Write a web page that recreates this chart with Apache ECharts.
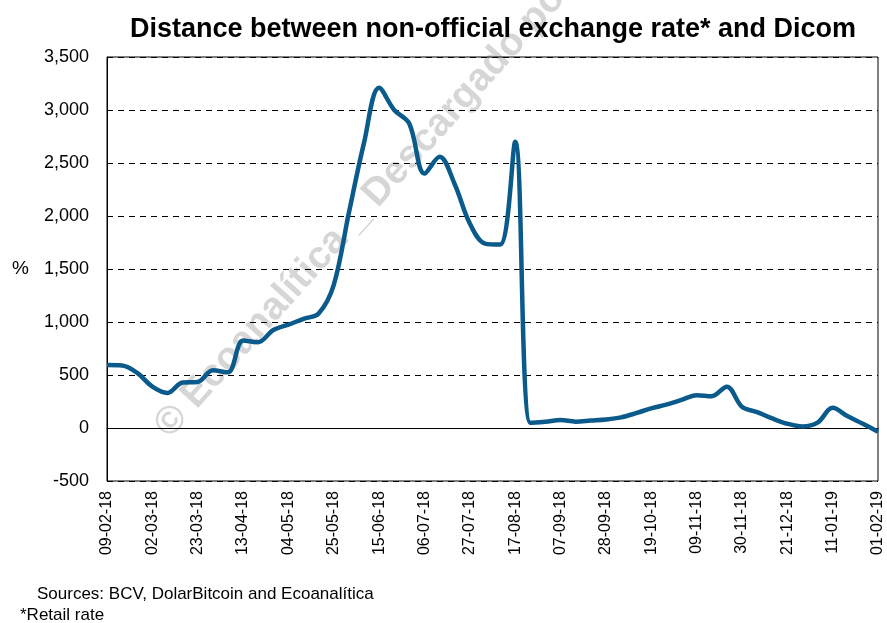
<!DOCTYPE html>
<html><head><meta charset="utf-8">
<script src="https://cdn.jsdelivr.net/npm/echarts@6/dist/echarts.min.js"></script>
<style>html,body{margin:0;padding:0;background:#fff}#c{width:887px;height:623px}</style>
</head><body><div id="c"></div>
<script>
var dates = ["09-02-18","16-02-18","23-02-18","02-03-18","09-03-18","16-03-18","23-03-18","30-03-18","06-04-18","13-04-18","20-04-18","27-04-18","04-05-18","11-05-18","18-05-18","25-05-18","01-06-18","08-06-18","15-06-18","22-06-18","29-06-18","06-07-18","13-07-18","20-07-18","27-07-18","03-08-18","10-08-18","17-08-18","24-08-18","31-08-18","07-09-18","14-09-18","21-09-18","28-09-18","05-10-18","12-10-18","19-10-18","26-10-18","02-11-18","09-11-18","16-11-18","23-11-18","30-11-18","07-12-18","14-12-18","21-12-18","28-12-18","04-01-19","11-01-19","18-01-19","25-01-19","01-02-19"];
var distance = [594,590,520,390,330,430,435,545,525,825,810,925,975,1030,1080,1350,2030,2690,3210,3000,2870,2400,2560,2300,1930,1740,1730,2700,50,60,75,60,70,80,100,140,185,220,265,310,300,390,200,150,90,40,15,50,190,110,40,-35];
var yTicks = [-500,0,500,1000,1500,2000,2500,3000,3500];
var titleText = "Distance between non-official exchange rate* and Dicom";
var sourceText = "Sources: BCV, DolarBitcoin and Ecoanalítica";
var noteText = "*Retail rate";
var watermarkText = "© Ecoanalítica _ Descargado por usuario";

var chart = echarts.init(document.getElementById('c'), null, {renderer:'canvas'});
chart.setOption({
  animation:false,
  backgroundColor:'#fff',
  graphic:[
    {type:'text',x:162,y:432,rotation:48*Math.PI/180,z:-10,silent:true,
      style:{text:watermarkText,fontSize:39,fontWeight:'bold',fill:'#d6d6d6',
        fontFamily:'Liberation Sans, Arial',textAlign:'left',textVerticalAlign:'middle'}},
    {type:'text',left:37,top:586,style:{text:sourceText,fontSize:17,fill:'#000',fontFamily:'Liberation Sans, Arial'}},
    {type:'text',left:20,top:607,style:{text:noteText,fontSize:17,fill:'#000',fontFamily:'Liberation Sans, Arial'}}
  ],
  title:{text:titleText,left:488,top:11,textAlign:'center',z:20,
    textStyle:{fontFamily:'Liberation Sans, Arial',fontWeight:'bold',fontSize:27,color:'#000'}},
  grid:{left:107,right:9,top:57,bottom:142,show:true,borderColor:'#000',borderWidth:1,backgroundColor:'transparent'},
  xAxis:{type:'category',data:dates,boundaryGap:false,
    axisLine:{show:true,lineStyle:{color:'#000',width:1}},
    axisTick:{show:false},
    axisLabel:{interval:2,rotate:90,margin:10,color:'#000',fontSize:16,fontFamily:'Liberation Sans, Arial'},
    splitLine:{show:false}},
  yAxis:{type:'value',min:-500,max:3500,interval:500,
    name:'%',nameLocation:'middle',nameRotate:0,nameGap:78,
    nameTextStyle:{fontSize:19,color:'#000',fontFamily:'Liberation Sans, Arial'},
    axisLine:{show:true,lineStyle:{color:'#000'}},
    axisTick:{show:false},
    axisLabel:{margin:18,color:'#000',fontSize:18,fontFamily:'Liberation Sans, Arial',
      formatter:function(v){return v.toLocaleString('en-US');}},
    splitLine:{show:true,lineStyle:{color:'#000',type:[6,5],width:1}}},
  series:[{type:'line',data:distance,smooth:0.35,showSymbol:false,z:3,
    lineStyle:{color:'#0B5A8C',width:4.5}}]
});
</script></body></html>
